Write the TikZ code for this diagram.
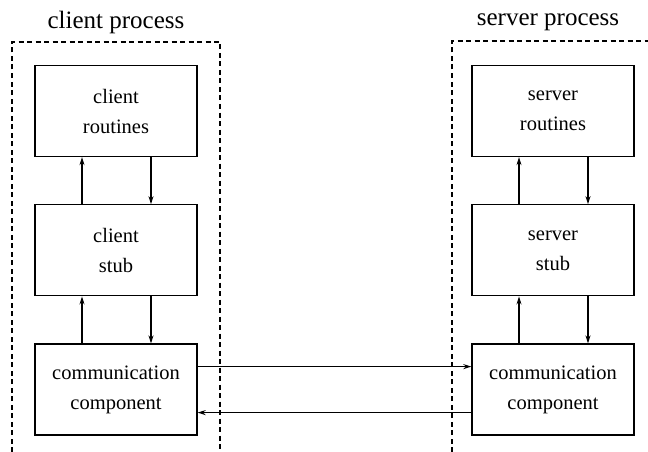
\documentclass[tikz,border=0pt]{standalone}
\usepackage{fontspec}
\setmainfont{Liberation Serif}
\usetikzlibrary{arrows.meta, positioning, calc}

\begin{document}
\begin{tikzpicture}[
    x=1pt, y=-1pt,
    box/.style={rectangle, draw=black, line width=1.3pt, minimum width=162pt, minimum height=91pt, align=center, font=\fontsize{20.5}{30}\selectfont},
    arrow/.style={-{Stealth[length=8pt,width=5pt]}, line width=1.2pt},
    proc_label/.style={font=\fontsize{25}{30}\selectfont},
    proc_border/.style={line width=1.2pt, dash pattern=on 5pt off 3.5pt}
]
    % Spacing constants
    \def\rowsep{47pt}
    \useasboundingbox (0,0) rectangle (648,452);

    % Process borders
    \draw[proc_border] (12,452) -- (12,42) -- (220,42) -- (220,452);
    \draw[proc_border] (452,452) -- (452,41) -- (648,41);
    \node[proc_label] (clabel) at (116,22) {client process};
    \node[proc_label] (slabel) at (548,22) {server process};

    % Client side
    \node[box] (croutines) at (116,111) {client\\routines};
    \node[box, below=\rowsep of croutines] (cstub) {client\\stub};
    \node[box, below=\rowsep of cstub] (ccomm) {communication\\component};

    % Server side
    \node[box] (sroutines) at (553,111) {server\\routines};
    \node[box, below=\rowsep of sroutines] (sstub) {server\\stub};
    \node[box, below=\rowsep of sstub] (scomm) {communication\\component};

    % Up and down calls
    \draw[arrow] ([xshift=-34pt]cstub.north) -- ([xshift=-34pt]croutines.south);
    \draw[arrow] ([xshift=35pt]croutines.south) -- ([xshift=35pt]cstub.north);
    \draw[arrow] ([xshift=-34pt]ccomm.north) -- ([xshift=-34pt]cstub.south);
    \draw[arrow] ([xshift=35pt]cstub.south) -- ([xshift=35pt]ccomm.north);
    \draw[arrow] ([xshift=-34pt]sstub.north) -- ([xshift=-34pt]sroutines.south);
    \draw[arrow] ([xshift=35pt]sroutines.south) -- ([xshift=35pt]sstub.north);
    \draw[arrow] ([xshift=-34pt]scomm.north) -- ([xshift=-34pt]sstub.south);
    \draw[arrow] ([xshift=35pt]sstub.south) -- ([xshift=35pt]scomm.north);

    % Messages between the processes
    \draw[arrow] ([yshift=23pt]ccomm.east) -- ([yshift=23pt]scomm.west);
    \draw[arrow] ([yshift=-23pt]scomm.west) -- ([yshift=-23pt]ccomm.east);

\end{tikzpicture}
\end{document}
